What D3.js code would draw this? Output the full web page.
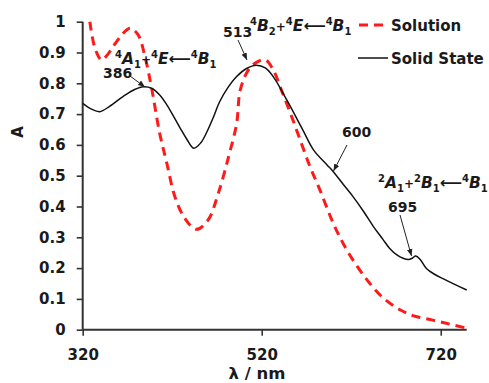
<!DOCTYPE html>
<html><head><meta charset="utf-8">
<script src="https://cdn.jsdelivr.net/npm/d3@7"></script>
<style>
body{margin:0;background:#fff;}
text{font-family:"DejaVu Sans",sans-serif;font-weight:bold;fill:#1a1a1a;}
</style></head>
<body><svg id="c" width="489" height="383"></svg>
<script>
// Solid state spectrum
const solidWl = [320,330,339,350,365,378,388,397,406,414,422,429,436,444,452,460,466,473,482,492,503,514,524,533,548,566,578,593,600,611,622,634,645,655,663,671,678,684,688,692,697,704,713,723,735,749];
const solidA  = [0.735,0.716,0.708,0.725,0.757,0.780,0.789,0.784,0.762,0.730,0.690,0.654,0.620,0.589,0.607,0.650,0.690,0.740,0.785,0.822,0.848,0.859,0.850,0.821,0.746,0.648,0.583,0.535,0.513,0.472,0.432,0.383,0.334,0.295,0.264,0.243,0.232,0.228,0.232,0.239,0.228,0.199,0.180,0.165,0.148,0.129];
// Solution spectrum
const solWl = [328,333.7,341,347,354,365,373,382,390,397,406,414,423,434,447,460,471.5,483,492,496,505,514,524,533,542,552,563,574,585,600,615,635,655,675,690,711,730,749];
const solA  = [1.0,0.914,0.876,0.890,0.919,0.962,0.979,0.957,0.881,0.784,0.638,0.540,0.432,0.362,0.326,0.356,0.443,0.562,0.670,0.778,0.843,0.868,0.876,0.843,0.778,0.703,0.616,0.529,0.454,0.345,0.259,0.172,0.105,0.064,0.045,0.031,0.018,0.005];
const xTicks = [320,520,720];
const yTicks = [0,0.1,0.2,0.3,0.4,0.5,0.6,0.7,0.8,0.9,1];
const yTickLabels = ["0","0.1","0.2","0.3","0.4","0.5","0.6","0.7","0.8","0.9","1"];
const legendLabels = ["Solution","Solid State"];

const svg = d3.select("#c");
const x = d3.scaleLinear().domain([320,749]).range([82.7,466.7]);
const y = d3.scaleLinear().domain([0,1]).range([329.7,21.7]);

svg.append("defs").append("marker").attr("id","ah").attr("viewBox","0 0 10 10")
  .attr("refX",10).attr("refY",5).attr("markerWidth",7).attr("markerHeight",7)
  .attr("orient","auto").attr("markerUnits","userSpaceOnUse")
  .append("path").attr("d","M0,1 L10,5 L0,9 Z").attr("fill","#222");

// axes
const yAx = svg.append("g").attr("transform","translate(82.7,0)")
  .call(d3.axisLeft(y).tickValues(yTicks).tickFormat((d,i)=>yTickLabels[i]).tickSize(6).tickPadding(11));
const xAx = svg.append("g").attr("transform","translate(0,329.7)")
  .call(d3.axisBottom(x).tickValues(xTicks).tickFormat(d3.format("d")).tickSize(6).tickPadding(14));
[yAx,xAx].forEach(g=>{
  g.select(".domain").attr("stroke","#333").attr("stroke-width",2);
  g.selectAll(".tick line").attr("stroke","#333").attr("stroke-width",1.6);
  g.selectAll(".tick text").style("font-size","15px").attr("fill","#1a1a1a");
});
yAx.select(".domain").attr("d",`M0,${y(1)}V${y(0)}`);
xAx.select(".domain").attr("d",`M${x(320)},0H${x(749)}`);

svg.append("text").attr("transform","translate(23,132) rotate(-90)").attr("text-anchor","middle")
  .style("font-size","15px").text("A");
svg.append("text").attr("x",257).attr("y",379).attr("text-anchor","middle")
  .style("font-size","16.5px").text("λ / nm");

const line = d3.line().x(d=>x(d[0])).y(d=>y(d[1])).curve(d3.curveCatmullRom.alpha(0.5));
svg.append("path").datum(solWl.map((w,i)=>[w,solA[i]])).attr("d",line)
  .attr("fill","none").attr("stroke","#ff1a1a").attr("stroke-width",3).attr("stroke-dasharray","9,6");
svg.append("path").datum(solidWl.map((w,i)=>[w,solidA[i]])).attr("d",line)
  .attr("fill","none").attr("stroke","#111").attr("stroke-width",1.5);

// legend
svg.append("line").attr("x1",359).attr("x2",387).attr("y1",25).attr("y2",25)
  .attr("stroke","#ff1a1a").attr("stroke-width",3).attr("stroke-dasharray","9,6");
svg.append("line").attr("x1",358).attr("x2",388).attr("y1",58).attr("y2",58)
  .attr("stroke","#111").attr("stroke-width",1.5);
svg.append("text").attr("x",391).attr("y",30.5).style("font-size","15px").text(legendLabels[0]);
svg.append("text").attr("x",391).attr("y",63.5).style("font-size","15px").text(legendLabels[1]);

// annotations
function num(t,xx,yy){svg.append("text").attr("x",xx).attr("y",yy).style("font-size","14px").text(t);}
function arrow(x1,y1,x2,y2){svg.append("line").attr("x1",x1).attr("y1",y1).attr("x2",x2).attr("y2",y2)
  .attr("stroke","#222").attr("stroke-width",1).attr("marker-end","url(#ah)");}
function term(xx,yy,parts){
  const t = svg.append("text").attr("x",xx).attr("y",yy).style("font-size","15.5px").style("font-style","italic");
  parts.forEach(p=>{
    const s = t.append("tspan").text(p[0]);
    if(p[1]==="sup") s.style("font-size","10px").style("font-style","normal").attr("baseline-shift","6");
    else if(p[1]==="sub") s.style("font-size","10px").style("font-style","normal").attr("baseline-shift","-4");
    else if(p[1]==="plus") s.style("font-size","12px").style("font-style","normal");
    else if(p[1]==="n") s.style("font-style","normal");
  });
}
const ARW = "\u27F5";
num("386",103,78); arrow(130,76,145,87);
term(115,63.5,[["4","sup"],["A"],["1","sub"],["+","plus"],["4","sup"],["E"],[ARW,"n"],["4","sup"],["B"],["1","sub"]]);
num("513",223,37); arrow(238,40,247,60);
term(250,30.5,[["4","sup"],["B"],["2","sub"],["+","plus"],["4","sup"],["E"],[ARW,"n"],["4","sup"],["B"],["1","sub"]]);
num("600",342,137); arrow(347,145,333.5,171);
term(378,187.5,[["2","sup"],["A"],["1","sub"],["+","plus"],["2","sup"],["B"],["1","sub"],[ARW,"n"],["4","sup"],["B"],["1","sub"]]);
num("695",388,212); arrow(400,215,411.5,256);
</script></body></html>
